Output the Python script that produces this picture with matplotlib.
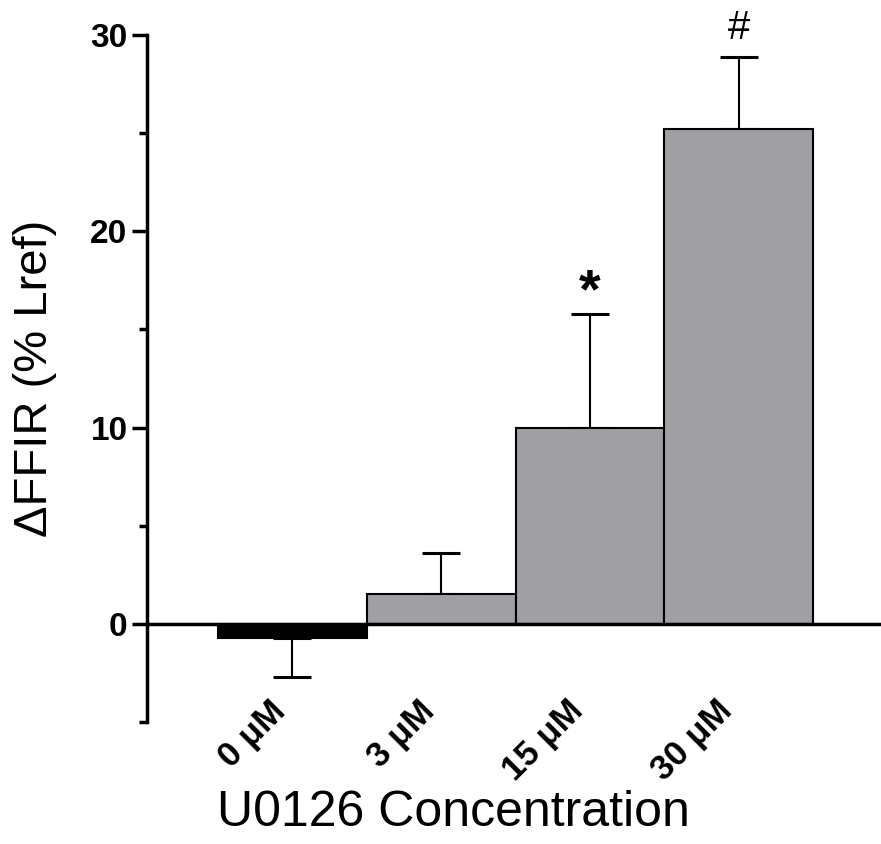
#!/usr/bin/env python3
"""
Bar chart of FFIR change vs U0126 concentration.
"""

import numpy as np
import matplotlib
matplotlib.use("Agg")
import matplotlib.pyplot as plt
from matplotlib.ticker import MultipleLocator

# data
concentrations = ['0 \u03bcM', '3 \u03bcM', '15 \u03bcM', '30 \u03bcM']
means = [-0.7, 1.5, 10.0, 25.2]
sems = [2.0, 2.1, 5.8, 3.7]
markers = ['', '', '*', '#']
bar_colors = ['#000000', '#a09fa4', '#a09fa4', '#a09fa4']

plt.rcParams['font.family'] = ['Liberation Sans', 'DejaVu Sans']


def make_plot():
    fig = plt.figure(figsize=(8.81, 8.44), dpi=100)
    ax = fig.add_axes([0.1669, 0.1445, 0.8331, 0.814])

    x = np.arange(len(means))
    ax.bar(x, means, width=1.0, color=bar_colors, edgecolor='black',
           linewidth=1.5, zorder=2)

    # one-sided error bars (away from zero)
    for xi, m, s in zip(x, means, sems):
        lower = s if m < 0 else 0
        upper = s if m >= 0 else 0
        ax.errorbar(xi, m, yerr=[[lower], [upper]], fmt='none', ecolor='black',
                    elinewidth=1.5, capsize=14, capthick=2.2, zorder=1)

    # significance markers
    for xi, m, s, mk in zip(x, means, sems, markers):
        if mk == '*':
            ax.text(xi, m + s - 0.3, mk, ha='center', va='bottom',
                    fontsize=40, fontweight='bold', clip_on=False)
        elif mk:
            ax.text(xi, m + s + 0.5, mk, ha='center', va='bottom',
                    fontsize=29, clip_on=False)

    ax.axhline(0, color='black', linewidth=2.5, zorder=3)

    ax.set_xlim(-0.977, 3.956)
    ax.set_ylim(-5, 30)
    ax.yaxis.set_major_locator(MultipleLocator(10))
    ax.yaxis.set_minor_locator(MultipleLocator(5))

    for side in ['top', 'right', 'bottom']:
        ax.spines[side].set_visible(False)
    ax.spines['left'].set_linewidth(2.5)

    ax.tick_params(axis='y', which='major', length=11, width=2.5, pad=3,
                   labelsize=24)
    ax.tick_params(axis='y', which='minor', length=6, width=2.5)
    for lab in ax.get_yticklabels():
        lab.set_fontweight('bold')

    ax.set_xticks(x)
    ax.set_xticklabels(concentrations, rotation=45, ha='right',
                       fontsize=25, fontweight='bold')
    ax.tick_params(axis='x', length=0, pad=-20)

    ax.set_ylabel('\u0394FFIR (% Lref)', fontsize=34, labelpad=24)
    ax.set_xlabel('U0126 Concentration', fontsize=36)
    ax.xaxis.set_label_coords(0.417, -0.099)

    plt.savefig('out.png', dpi=100)
    plt.close()


if __name__ == "__main__":
    make_plot()
